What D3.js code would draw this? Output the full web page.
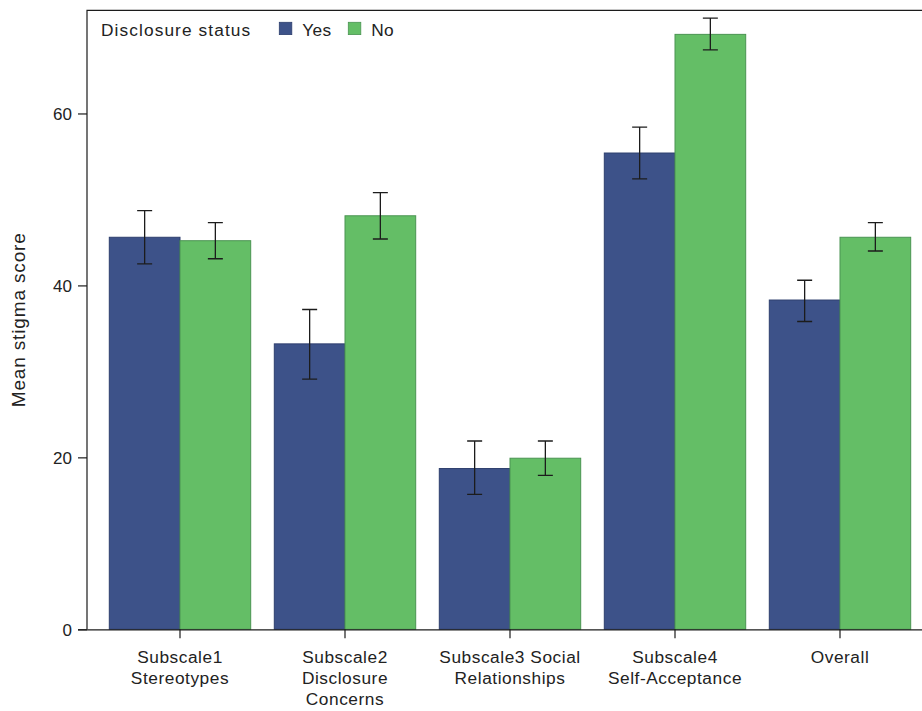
<!DOCTYPE html>
<html>
<head>
<meta charset="utf-8">
<script src="https://cdn.jsdelivr.net/npm/d3@7"></script>
<style>
  html, body { margin: 0; padding: 0; background: #fff; }
  svg { display: block; font-family: "Liberation Sans", Arial, Helvetica, sans-serif; }
</style>
</head>
<body>
<svg id="chart" width="922" height="711"></svg>
<script>
// Subscales of the stigma scale; "|" marks a line break in the axis label
const categories = [
  "Subscale1|Stereotypes",
  "Subscale2|Disclosure|Concerns",
  "Subscale3 Social|Relationships",
  "Subscale4|Self-Acceptance",
  "Overall"
];
const groups = ["Yes", "No"];

// Mean stigma score with lower / upper error limits, disclosed = Yes
const yesMean  = [45.6, 33.2, 18.7, 55.4, 38.3];
const yesLower = [42.5, 29.1, 15.7, 52.4, 35.8];
const yesUpper = [48.7, 37.2, 21.9, 58.4, 40.6];

// Mean stigma score with lower / upper error limits, disclosed = No
const noMean  = [45.2, 48.1, 19.9, 69.2, 45.6];
const noLower = [43.1, 45.4, 17.9, 67.4, 44.0];
const noUpper = [47.3, 50.8, 21.9, 71.1, 47.3];

const yTicks = [0, 20, 40, 60];

const colors = { Yes: "#3d5289", No: "#64be66" };
const strokes = { Yes: "#2e3f6e", No: "#4a9452" };

const svg = d3.select("#chart");
const plotLeft = 87, plotTop = 10.3, plotBottom = 629.3;

const x = d3.scaleBand()
  .domain(categories)
  .range([97.5, 922.5])
  .paddingInner(0.143)
  .paddingOuter(0.0715);

const xSub = d3.scaleBand()
  .domain(groups)
  .range([0, x.bandwidth()]);

const y = d3.scaleLinear().domain([0, 72]).range([plotBottom, plotTop]);

const rows = [];
categories.forEach((c, i) => {
  rows.push({ cat: c, grp: "Yes", mean: yesMean[i], lo: yesLower[i], hi: yesUpper[i] });
  rows.push({ cat: c, grp: "No",  mean: noMean[i],  lo: noLower[i],  hi: noUpper[i] });
});

// bars
svg.append("g").selectAll("rect").data(rows).join("rect")
  .attr("x", d => x(d.cat) + xSub(d.grp))
  .attr("y", d => y(d.mean))
  .attr("width", xSub.bandwidth())
  .attr("height", d => y(0) - y(d.mean))
  .attr("fill", d => colors[d.grp])
  .attr("stroke", d => strokes[d.grp])
  .attr("stroke-width", 1);

// error bars
const cap = 7.5;
const eb = svg.append("g").attr("stroke", "#1c1c1c").attr("stroke-width", 1.3).attr("fill", "none");
eb.selectAll("path").data(rows).join("path")
  .attr("d", d => {
    const cx = x(d.cat) + xSub(d.grp) + xSub.bandwidth() / 2;
    const y1 = y(d.hi), y0 = y(d.lo);
    return `M${cx - cap},${y1}H${cx + cap}M${cx},${y1}V${y0}M${cx - cap},${y0}H${cx + cap}`;
  });

// frame: top line and left axis
svg.append("path")
  .attr("d", `M${plotLeft},${plotBottom}V${plotTop}H922`)
  .attr("stroke", "#1c1c1c").attr("stroke-width", 1.2).attr("fill", "none");

// y axis
const yAxis = svg.append("g")
  .attr("transform", `translate(${plotLeft},0)`)
  .call(d3.axisLeft(y).tickValues(yTicks).tickSize(9).tickPadding(6).tickFormat(d3.format("d")));
yAxis.select(".domain").remove();
yAxis.selectAll("line").attr("stroke", "#1c1c1c").attr("stroke-width", 1.2);
yAxis.selectAll("text").attr("font-size", 17).attr("fill", "#222").attr("font-family", null).attr("dy", "0.36em");

// x axis
const xAxis = svg.append("g")
  .attr("transform", `translate(0,${plotBottom})`)
  .call(d3.axisBottom(x).tickSize(9).tickSizeOuter(0).tickFormat(() => ""));
xAxis.select(".domain").attr("d", `M78,0.5H922`).attr("stroke", "#1c1c1c").attr("stroke-width", 1.2);
xAxis.selectAll(".tick line").attr("stroke", "#1c1c1c").attr("stroke-width", 1.2);
xAxis.selectAll(".tick").each(function(d) {
  const t = d3.select(this).append("text")
    .attr("text-anchor", "middle")
    .attr("fill", "#222")
    .attr("font-size", 17.3)
    .attr("letter-spacing", 0.55);
  d.split("|").forEach((line, i) => {
    t.append("tspan").attr("x", 0).attr("y", 34 + i * 20.8).text(line);
  });
});

// y axis title
svg.append("text")
  .attr("transform", `translate(25,${(plotTop + plotBottom) / 2}) rotate(-90)`)
  .attr("text-anchor", "middle")
  .attr("font-size", 19)
  .attr("letter-spacing", 0.85)
  .attr("fill", "#222")
  .text("Mean stigma score");

// legend
const legend = svg.append("g");
legend.append("text")
  .attr("x", 101).attr("y", 36)
  .attr("font-size", 17.3).attr("letter-spacing", 1.1).attr("fill", "#222")
  .text("Disclosure status");
const legendX = { Yes: 279.3, No: 348.3 };
groups.forEach(g => {
  legend.append("rect")
    .attr("x", legendX[g]).attr("y", 22.3)
    .attr("width", 12.5).attr("height", 12.3)
    .attr("fill", colors[g]).attr("stroke", strokes[g]).attr("stroke-width", 0.8);
  legend.append("text")
    .attr("x", legendX[g] + 23).attr("y", 36)
    .attr("font-size", 17.3).attr("fill", "#222").attr("letter-spacing", 0.3)
    .text(g);
});
</script>
</body>
</html>
